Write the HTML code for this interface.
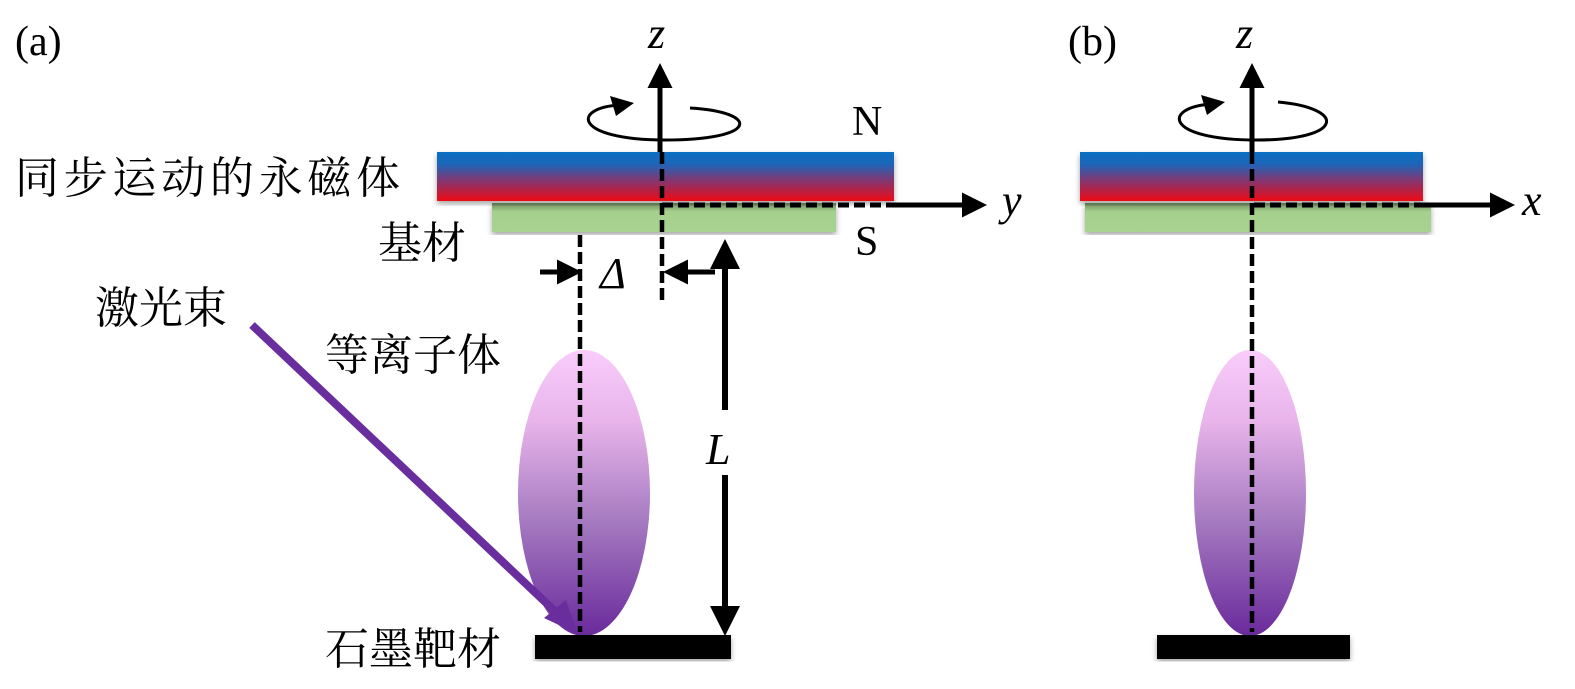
<!DOCTYPE html>
<html><head><meta charset="utf-8"><style>
html,body{margin:0;padding:0;background:#fff;}
svg{display:block;}
.cn{font-family:"Noto Serif CJK SC","Liberation Serif",serif;font-size:44px;fill:#000;}
.it{font-family:"Liberation Serif",serif;font-style:italic;font-size:44px;fill:#000;}
.rm{font-family:"Liberation Serif",serif;font-size:42px;fill:#000;}
</style></head><body>
<svg width="1575" height="689" viewBox="0 0 1575 689" xmlns="http://www.w3.org/2000/svg">
<defs>
<linearGradient id="mag" x1="0" y1="0" x2="0" y2="1">
<stop offset="0" stop-color="#0a6fc2"/><stop offset="0.25" stop-color="#1d65b8"/><stop offset="0.55" stop-color="#7a3a78"/><stop offset="1" stop-color="#ee0a14"/></linearGradient>
<linearGradient id="grn" x1="0" y1="0" x2="0" y2="1">
<stop offset="0" stop-color="#6e8c5c"/><stop offset="0.3" stop-color="#a6d08e"/><stop offset="1" stop-color="#a8d28f"/></linearGradient>
<linearGradient id="pl" x1="0" y1="0" x2="0" y2="1">
<stop offset="0" stop-color="#f9ccfb"/><stop offset="0.25" stop-color="#e8b4ea"/><stop offset="0.6" stop-color="#a57ac0"/><stop offset="1" stop-color="#6a2a9c"/></linearGradient>
<marker id="ah" markerWidth="5" markerHeight="5" refX="4" refY="2.5" orient="auto" markerUnits="strokeWidth"><path d="M0,0 L5,2.5 L0,5 z" fill="#000"/></marker>
<filter id="sh"><feDropShadow dx="0" dy="3" stdDeviation="3" flood-color="#000" flood-opacity="0.35"/></filter>
</defs>

<!-- Panel a -->
<text x="15" y="55" class="rm">(a)</text>
<text x="648" y="48" class="it">z</text>
<rect x="492" y="203" width="344" height="29" fill="url(#grn)" filter="url(#sh)"/>
<rect x="437" y="152" width="457" height="49" fill="url(#mag)" filter="url(#sh)"/>
<line x1="662" y1="205" x2="894" y2="205" stroke="#000" stroke-width="5" stroke-dasharray="11,5"/>
<line x1="894" y1="205" x2="982" y2="205" stroke="#000" stroke-width="5" marker-end="url(#ah)"/>
<text x="1002" y="215" class="it">y</text>
<line x1="660" y1="152" x2="660" y2="68" stroke="#000" stroke-width="5" marker-end="url(#ah)"/>
<line x1="662" y1="152" x2="662" y2="302" stroke="#000" stroke-width="4.5" stroke-dasharray="12,5"/>
<path d="M690,108 C760,112 760,140 665,140 C575,140 570,108 620,105" fill="none" stroke="#000" stroke-width="3"/>
<path d="M610,96 L634,103 L616,116 z" fill="#000"/>
<text x="852" y="135" class="rm">N</text>
<text x="855" y="255" class="rm">S</text>
<text x="15" y="193" class="cn" textLength="385">同步运动的永磁体</text>
<text x="378" y="258" class="cn">基材</text>
<text x="95" y="323" class="cn">激光束</text>
<text x="325" y="370" class="cn">等离子体</text>
<text x="325" y="664" class="cn">石墨靶材</text>
<ellipse cx="584" cy="493" rx="66" ry="143" fill="url(#pl)"/>
<line x1="580" y1="235" x2="580" y2="632" stroke="#000" stroke-width="4.5" stroke-dasharray="12,5"/>
<line x1="540" y1="272" x2="577" y2="272" stroke="#000" stroke-width="5" marker-end="url(#ah)"/>
<line x1="715" y1="272" x2="668" y2="272" stroke="#000" stroke-width="5" marker-end="url(#ah)"/>
<text x="600" y="288" class="it">Δ</text>
<line x1="725" y1="410" x2="725" y2="245" stroke="#000" stroke-width="6" marker-end="url(#ah)"/>
<line x1="725" y1="475" x2="725" y2="630" stroke="#000" stroke-width="6" marker-end="url(#ah)"/>
<text x="706" y="464" class="it">L</text>
<line x1="252" y1="325" x2="560" y2="616" stroke="#6a2d9e" stroke-width="8"/>
<path d="M544,618 L578,634 L566,600 z" fill="#6a2d9e"/>
<rect x="535" y="635" width="196" height="24" fill="#000" filter="url(#sh)"/>

<!-- Panel b -->
<text x="1068" y="55" class="rm">(b)</text>
<text x="1236" y="48" class="it">z</text>
<rect x="1085" y="203" width="346" height="29" fill="url(#grn)" filter="url(#sh)"/>
<rect x="1080" y="152" width="343" height="49" fill="url(#mag)" filter="url(#sh)"/>
<line x1="1254" y1="205" x2="1424" y2="205" stroke="#000" stroke-width="5" stroke-dasharray="11,5"/>
<line x1="1424" y1="205" x2="1510" y2="205" stroke="#000" stroke-width="5" marker-end="url(#ah)"/>
<text x="1522" y="215" class="it">x</text>
<line x1="1252" y1="152" x2="1252" y2="68" stroke="#000" stroke-width="5" marker-end="url(#ah)"/>
<path d="M1278,102 C1346,108 1346,140 1256,140 C1166,140 1161,108 1211,104" fill="none" stroke="#000" stroke-width="3"/>
<path d="M1201,95 L1225,102 L1207,115 z" fill="#000"/>
<ellipse cx="1250" cy="493" rx="56" ry="143" fill="url(#pl)"/>
<line x1="1252" y1="152" x2="1252" y2="632" stroke="#000" stroke-width="4.5" stroke-dasharray="12,5"/>
<rect x="1157" y="635" width="193" height="24" fill="#000" filter="url(#sh)"/>
</svg>
</body></html>
